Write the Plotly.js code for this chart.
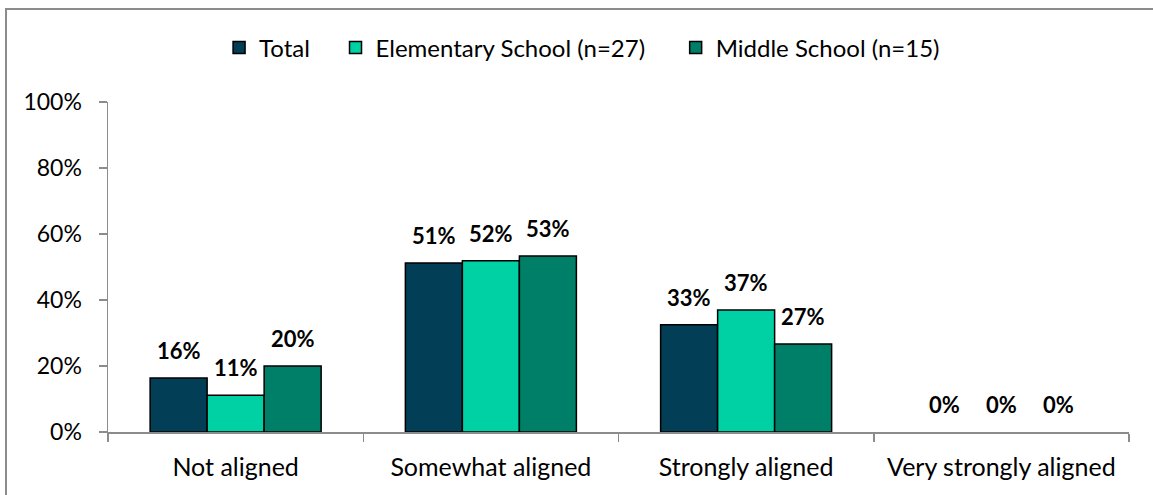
<!DOCTYPE html>
<html>
<head>
<meta charset="utf-8">
<script src="https://cdn.plot.ly/plotly-3.0.1.min.js"></script>
<style>
html,body{margin:0;padding:0;background:#fff;overflow:hidden;}
#chart{width:1153px;height:495px;}
#frame{position:absolute;left:5px;top:8px;width:1170px;height:510px;border:2px solid #8c8c8c;pointer-events:none;}
</style>
</head>
<body>
<div id="chart"></div>
<div id="frame"></div>
<script>
const categories = ["Not aligned", "Somewhat aligned", "Strongly aligned", "Very strongly aligned"];
const seriesNames = ["Total", "Elementary School (n=27)", "Middle School (n=15)"];
const totalVals = [16.4, 51.2, 32.5, 0];
const elementaryVals = [11.1, 51.9, 37.0, 0];
const middleVals = [20.0, 53.3, 26.7, 0];
const colors = ["#023f56", "#00d1a5", "#007f68"];

const fontFam = "Lato, 'Open Sans', sans-serif";
const seriesVals = [totalVals, elementaryVals, middleVals];
const legendIds = ["legend", "legend2", "legend3"];
const legendX = [0.19, 0.291, 0.586];
const barPx = 57;

const data = seriesVals.map((vals, i) => ({
  type: "bar",
  name: seriesNames[i],
  x: categories,
  y: vals,
  legend: legendIds[i],
  marker: {color: colors[i], line: {color: "#000", width: vals.map(v => v === 0 ? 0 : 1.5)}},
  hoverinfo: "none"
}));

const annotations = [];
seriesVals.forEach((vals, i) => {
  vals.forEach((v, j) => {
    annotations.push({
      x: categories[j], y: v, xref: "x", yref: "y",
      text: Math.round(v) + "%",
      showarrow: false, xanchor: "center", yanchor: "bottom",
      xshift: (i - 1) * barPx, yshift: 12,
      font: {family: fontFam, size: 22, color: "#000", weight: "bold"}
    });
  });
});

const legendBase = {orientation: "h", xref: "container", yref: "container", xanchor: "left", y: 0.903, yanchor: "middle",
  font: {family: fontFam, size: 24, color: "#000"}, itemwidth: 30, bgcolor: "rgba(0,0,0,0)"};

const layout = {
  width: 1153, height: 495,
  margin: {l: 108, r: 24, t: 102, b: 63},
  paper_bgcolor: "#fff", plot_bgcolor: "#fff",
  barmode: "group",
  bargap: 0.33,
  bargroupgap: 0,
  showlegend: true,
  legend: Object.assign({}, legendBase, {x: legendX[0]}),
  legend2: Object.assign({}, legendBase, {x: legendX[1]}),
  legend3: Object.assign({}, legendBase, {x: legendX[2]}),
  annotations: annotations,
  font: {family: fontFam, size: 24, color: "#000"},
  xaxis: {
    showgrid: false, showline: true, linecolor: "#8c8c8c", linewidth: 1.5,
    ticks: "outside", tickson: "boundaries", ticklen: 8, tickcolor: "#8c8c8c", tickwidth: 1.5,
    ticklabelstandoff: 12,
    tickfont: {family: fontFam, size: 25, color: "#000"}
  },
  yaxis: {
    range: [0, 100], dtick: 20, ticksuffix: "%",
    showgrid: false, showline: true, linecolor: "#8c8c8c", linewidth: 1.5,
    ticks: "outside", ticklen: 8, tickcolor: "#8c8c8c", tickwidth: 1.5,
    ticklabelstandoff: 12,
    tickfont: {family: fontFam, size: 23, color: "#000"}, zeroline: false
  }
};

Plotly.newPlot("chart", data, layout, {displayModeBar: false, staticPlot: true});
</script>
</body>
</html>
